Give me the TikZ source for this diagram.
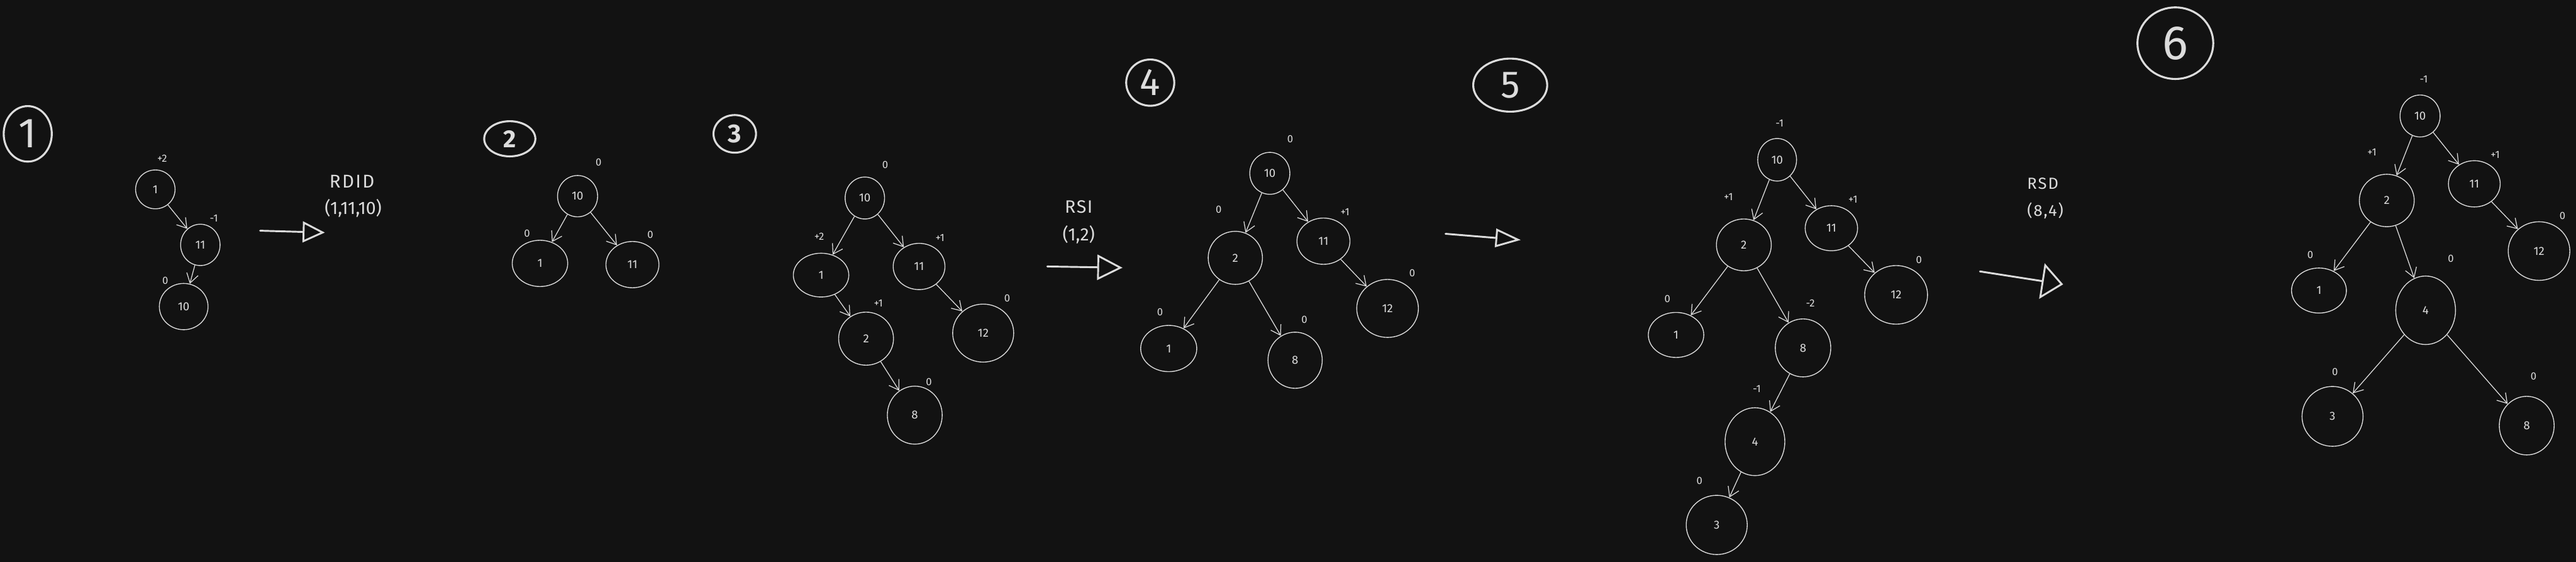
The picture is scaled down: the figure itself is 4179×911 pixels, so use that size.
\documentclass[tikz,border=0pt]{standalone}
\usepackage{fontspec}
\setmainfont{Fira Sans}
\usetikzlibrary{shapes.geometric,arrows.meta}
\definecolor{bg}{HTML}{121212}
\definecolor{ink}{HTML}{DCDCDC}
\tikzset{
  nd/.style 2 args={ellipse, draw=ink, line width=1.4pt, minimum width=#1, minimum height=#2,
    inner sep=0pt, text=ink, font=\fontsize{19}{19}\selectfont},
  bal/.style={text=ink, inner sep=0pt, font=\fontsize{17}{17}\selectfont},
  edge/.style={draw=ink, line width=1.3pt, -{Straight Barb[length=15pt,width=19pt]}},
  stepnum/.style={ellipse, draw=ink, line width=3.2pt, inner sep=0pt, text=ink},
  optext/.style={text=ink, inner sep=0pt, align=center},
  bigarrow/.style 2 args={draw=ink, line width=3pt, line cap=round,
    -{Triangle[open, length=#1, width=#2, line width=3pt]}}
}
\begin{document}
\begin{tikzpicture}[x=1pt,y=-1pt]
\fill[bg] (0,0) rectangle (4179,911);

% ---------- panel 1
\node[stepnum, minimum width=78pt, minimum height=90pt, font=\fontsize{68}{68}\selectfont] (s1) at (45,217) {1};
\node[nd={64pt}{63pt}] (a1) at (252,307) {1};
\node[nd={64pt}{67pt}] (a11) at (325,397) {11};
\node[nd={79pt}{75pt}] (a10) at (298,497) {10};
\node[bal] (la1) at (263,257) {+2};
\node[bal] (la11) at (347,354) {-1};
\node[bal] (la10) at (268,455) {0};
\draw[edge] (a1) -- (a11);
\draw[edge] (a11) -- (a10);
\coordinate (ar1s) at (422,374);
\coordinate (ar1e) at (527,377);
\draw[bigarrow={36pt}{34pt}] (ar1s) -- (ar1e);
\node[optext, font=\fontsize{30}{30}\selectfont\addfontfeatures{LetterSpace=8}] (t1a) at (571,294) {RDID};
\node[optext, font=\fontsize{29}{29}\selectfont] (t1b) at (573,338) {(1,11,10)};

% ---------- panel 2
\node[stepnum, minimum width=83pt, minimum height=57pt, font=\fontsize{40}{40}\selectfont\bfseries] (s2) at (827,225) {2};
\node[nd={65pt}{67pt}] (b10) at (937,318) {10};
\node[nd={90pt}{75pt}] (b1) at (876,427) {1};
\node[nd={86pt}{75pt}] (b11) at (1026,429) {11};
\node[bal] (lb10) at (971,263) {0};
\node[bal] (lb1) at (855,378) {0};
\node[bal] (lb11) at (1055,381) {0};
\draw[edge] (b10) -- (b1);
\draw[edge] (b10) -- (b11);

% ---------- panel 3
\node[stepnum, minimum width=69pt, minimum height=61pt, font=\fontsize{42}{42}\selectfont\bfseries] (s3) at (1192,217) {3};
\node[nd={64pt}{68pt}] (c10) at (1403,321) {10};
\node[nd={90pt}{71pt}] (c1) at (1332,446) {1};
\node[nd={84pt}{75pt}] (c11) at (1491,432) {11};
\node[nd={89pt}{86pt}] (c2) at (1405,549) {2};
\node[nd={99pt}{94pt}] (c12) at (1595,540) {12};
\node[nd={89pt}{94pt}] (c8) at (1484,673) {8};
\node[bal] (lc10) at (1436,267) {0};
\node[bal] (lc1) at (1329,383) {+2};
\node[bal] (lc11) at (1525,386) {+1};
\node[bal] (lc2) at (1425,492) {+1};
\node[bal] (lc12) at (1634,484) {0};
\node[bal] (lc8) at (1507,619) {0};
\draw[edge] (c10) -- (c1);
\draw[edge] (c10) -- (c11);
\draw[edge] (c1) -- (c2);
\draw[edge] (c11) -- (c12);
\draw[edge] (c2) -- (c8);
\node[optext, font=\fontsize{29}{29}\selectfont\addfontfeatures{LetterSpace=6}] (t3a) at (1750,335) {RSI};
\node[optext, font=\fontsize{29}{29}\selectfont] (t3b) at (1750,380) {(1,2)};
\coordinate (ar3s) at (1699,432);
\coordinate (ar3e) at (1821,434);
\draw[bigarrow={41pt}{41pt}] (ar3s) -- (ar3e);

% ---------- panel 4
\node[stepnum, minimum width=78pt, minimum height=75pt, font=\fontsize{62}{62}\selectfont] (s4) at (1866,134) {4};
\node[nd={65pt}{68pt}] (d10) at (2060,281) {10};
\node[nd={88pt}{86pt}] (d2) at (2004,418) {2};
\node[nd={86pt}{75pt}] (d11) at (2147,391) {11};
\node[nd={100pt}{94pt}] (d12) at (2251,500) {12};
\node[nd={91pt}{75pt}] (d1) at (1896,565) {1};
\node[nd={88pt}{91pt}] (d8) at (2101,584) {8};
\node[bal] (ld10) at (2093,225) {0};
\node[bal] (ld2) at (1977,340) {0};
\node[bal] (ld11) at (2182,344) {+1};
\node[bal] (ld12) at (2291,443) {0};
\node[bal] (ld1) at (1882,506) {0};
\node[bal] (ld8) at (2116,518) {0};
\draw[edge] (d10) -- (d2);
\draw[edge] (d10) -- (d11);
\draw[edge] (d11) -- (d12);
\draw[edge] (d2) -- (d1);
\draw[edge] (d2) -- (d8);
\coordinate (ar4s) at (2345,379);
\coordinate (ar4e) at (2467,389);
\draw[bigarrow={41pt}{30pt}] (ar4s) -- (ar4e);

% ---------- panel 5
\node[stepnum, minimum width=120pt, minimum height=86pt, font=\fontsize{62}{62}\selectfont] (s5) at (2450,138) {5};
\node[nd={63pt}{69pt}] (e10) at (2883,259) {10};
\node[nd={89pt}{84pt}] (e2) at (2829,397) {2};
\node[nd={85pt}{73pt}] (e11) at (2971,370) {11};
\node[nd={102pt}{95pt}] (e12) at (3076,478) {12};
\node[nd={90pt}{73pt}] (e1) at (2719,543) {1};
\node[nd={90pt}{94pt}] (e8) at (2925,564) {8};
\node[nd={97pt}{110pt}] (e4) at (2847,716) {4};
\node[nd={99pt}{96pt}] (e3) at (2785,851) {3};
\node[bal] (le10) at (2887,200) {-1};
\node[bal] (le2) at (2804,319) {+1};
\node[bal] (le11) at (3006,323) {+1};
\node[bal] (le12) at (3113,421) {0};
\node[bal] (le1) at (2705,485) {0};
\node[bal] (le8) at (2937,492) {-2};
\node[bal] (le4) at (2850,630) {-1};
\node[bal] (le3) at (2757,779) {0};
\draw[edge] (e10) -- (e2);
\draw[edge] (e10) -- (e11);
\draw[edge] (e11) -- (e12);
\draw[edge] (e2) -- (e1);
\draw[edge] (e2) -- (e8);
\draw[edge] (e8) -- (e4);
\draw[edge] (e4) -- (e3);
\node[optext, font=\fontsize{26}{26}\selectfont\addfontfeatures{LetterSpace=8}] (t5a) at (3314,298) {RSD};
\node[optext, font=\fontsize{26}{26}\selectfont\addfontfeatures{LetterSpace=8}] (t5b) at (3318,342) {(8,4)};
\coordinate (ar5s) at (3212,440);
\coordinate (ar5e) at (3347,461);
\draw[bigarrow={35pt}{58pt}] (ar5s) -- (ar5e);

% ---------- panel 6
\node[stepnum, minimum width=123pt, minimum height=116pt, font=\fontsize{78}{78}\selectfont] (s6) at (3529,70) {6};
\node[nd={65pt}{68pt}] (f10) at (3926,188) {10};
\node[nd={89pt}{85pt}] (f2) at (3872,325) {2};
\node[nd={84pt}{75pt}] (f11) at (4014,298) {11};
\node[nd={100pt}{95pt}] (f12) at (4119,407) {12};
\node[nd={89pt}{73pt}] (f1) at (3762,471) {1};
\node[nd={97pt}{111pt}] (f4) at (3935,503) {4};
\node[nd={99pt}{97pt}] (f3) at (3784,675) {3};
\node[nd={89pt}{95pt}] (f8) at (4099,690) {8};
\node[bal] (lf10) at (3932,128) {-1};
\node[bal] (lf2) at (3848,247) {+1};
\node[bal] (lf11) at (4048,251) {+1};
\node[bal] (lf12) at (4157,350) {0};
\node[bal] (lf1) at (3748,413) {0};
\node[bal] (lf4) at (3976,419) {0};
\node[bal] (lf3) at (3788,603) {0};
\node[bal] (lf8) at (4110,610) {0};
\draw[edge] (f10) -- (f2);
\draw[edge] (f10) -- (f11);
\draw[edge] (f11) -- (f12);
\draw[edge] (f2) -- (f1);
\draw[edge] (f2) -- (f4);
\draw[edge] (f4) -- (f3);
\draw[edge] (f4) -- (f8);
\end{tikzpicture}
\end{document}
